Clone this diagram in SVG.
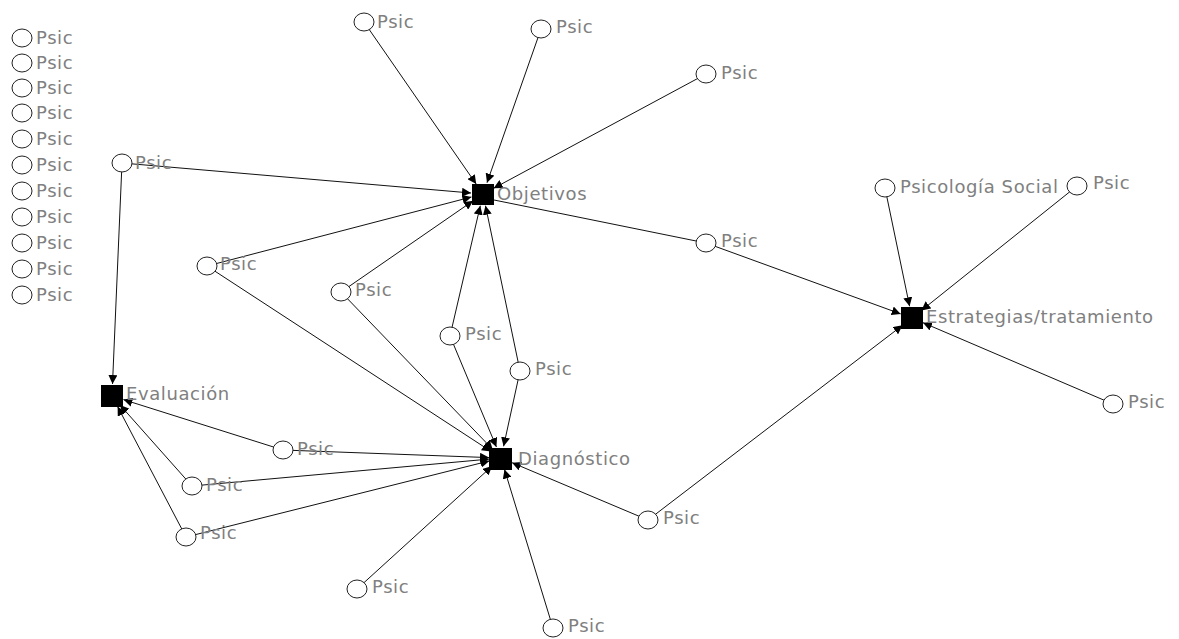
<svg xmlns="http://www.w3.org/2000/svg" width="1179" height="639" viewBox="0 0 1179 639">
<style>
.e{stroke:#111;stroke-width:1;fill:none}
.a{marker-end:url(#ar)}
.c{fill:#fff;stroke:#222;stroke-width:1}
.s{fill:#000}
text{font-family:"DejaVu Sans","Liberation Sans",sans-serif;font-size:18px;fill:#808080;letter-spacing:0.6px}
</style>
<defs>
<marker id="ar" viewBox="0 0 10 10" refX="10" refY="5" markerWidth="9" markerHeight="9" markerUnits="userSpaceOnUse" orient="auto">
<path d="M0,0 L10,5 L0,10 z" fill="#000"/>
</marker>
</defs>
<rect width="1179" height="639" fill="#fff"/>
<g id="connectors">
<line class="e a" x1="364" y1="22" x2="476.2" y2="184.1"/>
<line class="e a" x1="541" y1="29" x2="487.0" y2="182.7"/>
<line class="e a" x1="706" y1="74" x2="493.6" y2="188.3"/>
<line class="e a" x1="122" y1="163" x2="471" y2="193"/>
<line class="e a" x1="207" y1="266" x2="471.4" y2="197.0"/>
<line class="e a" x1="341" y1="292" x2="473.1" y2="200.8"/>
<line class="e a" x1="450" y1="336" x2="480.3" y2="205.7"/>
<line class="e a" x1="520" y1="371" x2="485.5" y2="205.7"/>
<line class="e" x1="494" y1="200" x2="706" y2="243"/>
<line class="e a" x1="207" y1="266" x2="491.0" y2="451.4"/>
<line class="e a" x1="341" y1="292" x2="492.7" y2="449.4"/>
<line class="e a" x1="450" y1="336" x2="496.4" y2="446.9"/>
<line class="e a" x1="520" y1="371" x2="503.6" y2="446.3"/>
<line class="e a" x1="283" y1="450" x2="489" y2="457.6"/>
<line class="e a" x1="192" y1="486" x2="489.0" y2="459.1"/>
<line class="e a" x1="186" y1="537" x2="489.4" y2="460.9"/>
<line class="e a" x1="357" y1="589" x2="492.1" y2="466.1"/>
<line class="e a" x1="553" y1="628" x2="504.5" y2="469.5"/>
<line class="e a" x1="648" y1="520" x2="512.1" y2="462.7"/>
<line class="e a" x1="122" y1="163" x2="112.5" y2="384.0"/>
<line class="e a" x1="283" y1="450" x2="123.4" y2="399.6"/>
<line class="e a" x1="192" y1="486" x2="120.0" y2="405.0"/>
<line class="e a" x1="186" y1="537" x2="117.6" y2="406.6"/>
<line class="e a" x1="706" y1="243" x2="900.7" y2="313.9"/>
<line class="e a" x1="885" y1="188" x2="909.6" y2="306.3"/>
<line class="e a" x1="1077" y1="186" x2="921.4" y2="310.5"/>
<line class="e a" x1="1113" y1="404" x2="923.0" y2="322.7"/>
<line class="e a" x1="648" y1="520" x2="902.5" y2="325.3"/>
</g>
<g id="objetivos"><rect class="s" x="472" y="184" width="22" height="21"/><text x="497" y="200">Objetivos</text></g>
<g id="diagnostico"><rect class="s" x="489" y="448" width="23" height="22"/><text x="518" y="465">Diagnóstico</text></g>
<g id="evaluacion"><rect class="s" x="101" y="385" width="22" height="22"/><text x="126" y="400">Evaluación</text></g>
<g id="estrategias"><rect class="s" x="901" y="307" width="22" height="22"/><text x="926" y="323">Estrategias/tratamiento</text></g>
<g id="iso1"><ellipse class="c" cx="22" cy="38" rx="10" ry="9"/><text x="36" y="44">Psic</text></g>
<g id="iso2"><ellipse class="c" cx="22" cy="63" rx="10" ry="9"/><text x="36" y="69">Psic</text></g>
<g id="iso3"><ellipse class="c" cx="22" cy="88" rx="10" ry="9"/><text x="36" y="94">Psic</text></g>
<g id="iso4"><ellipse class="c" cx="22" cy="113" rx="10" ry="9"/><text x="36" y="119">Psic</text></g>
<g id="iso5"><ellipse class="c" cx="22" cy="139" rx="10" ry="9"/><text x="36" y="145">Psic</text></g>
<g id="iso6"><ellipse class="c" cx="22" cy="165" rx="10" ry="9"/><text x="36" y="171">Psic</text></g>
<g id="iso7"><ellipse class="c" cx="22" cy="191" rx="10" ry="9"/><text x="36" y="197">Psic</text></g>
<g id="iso8"><ellipse class="c" cx="22" cy="217" rx="10" ry="9"/><text x="36" y="223">Psic</text></g>
<g id="iso9"><ellipse class="c" cx="22" cy="243" rx="10" ry="9"/><text x="36" y="249">Psic</text></g>
<g id="iso10"><ellipse class="c" cx="22" cy="269" rx="10" ry="9"/><text x="36" y="275">Psic</text></g>
<g id="iso11"><ellipse class="c" cx="22" cy="295" rx="10" ry="9"/><text x="36" y="301">Psic</text></g>
<g id="p1"><ellipse class="c" cx="364" cy="22" rx="10" ry="9"/><text x="377" y="28">Psic</text></g>
<g id="p2"><ellipse class="c" cx="541" cy="29" rx="10" ry="9"/><text x="556" y="33">Psic</text></g>
<g id="p3"><ellipse class="c" cx="706" cy="74" rx="10" ry="9"/><text x="721" y="79">Psic</text></g>
<g id="p4"><ellipse class="c" cx="122" cy="163" rx="10" ry="9"/><text x="135" y="169">Psic</text></g>
<g id="p5"><ellipse class="c" cx="207" cy="266" rx="10" ry="9"/><text x="220" y="270">Psic</text></g>
<g id="p6"><ellipse class="c" cx="341" cy="292" rx="10" ry="9"/><text x="355" y="296">Psic</text></g>
<g id="p7"><ellipse class="c" cx="450" cy="336" rx="10" ry="9"/><text x="465" y="340">Psic</text></g>
<g id="p8"><ellipse class="c" cx="520" cy="371" rx="10" ry="9"/><text x="535" y="375">Psic</text></g>
<g id="p9"><ellipse class="c" cx="706" cy="243" rx="10" ry="9"/><text x="721" y="247">Psic</text></g>
<g id="p10"><ellipse class="c" cx="885" cy="188" rx="10" ry="9"/><text x="900" y="193">Psicología Social</text></g>
<g id="p11"><ellipse class="c" cx="1077" cy="186" rx="10" ry="9"/><text x="1093" y="189">Psic</text></g>
<g id="p12"><ellipse class="c" cx="1113" cy="404" rx="10" ry="9"/><text x="1128" y="408">Psic</text></g>
<g id="p13"><ellipse class="c" cx="283" cy="450" rx="10" ry="9"/><text x="297" y="455">Psic</text></g>
<g id="p14"><ellipse class="c" cx="192" cy="486" rx="10" ry="9"/><text x="206" y="491">Psic</text></g>
<g id="p15"><ellipse class="c" cx="186" cy="537" rx="10" ry="9"/><text x="200" y="539">Psic</text></g>
<g id="p16"><ellipse class="c" cx="357" cy="589" rx="10" ry="9"/><text x="372" y="593">Psic</text></g>
<g id="p17"><ellipse class="c" cx="553" cy="628" rx="10" ry="9"/><text x="568" y="632">Psic</text></g>
<g id="p18"><ellipse class="c" cx="648" cy="520" rx="10" ry="9"/><text x="663" y="524">Psic</text></g>
</svg>
